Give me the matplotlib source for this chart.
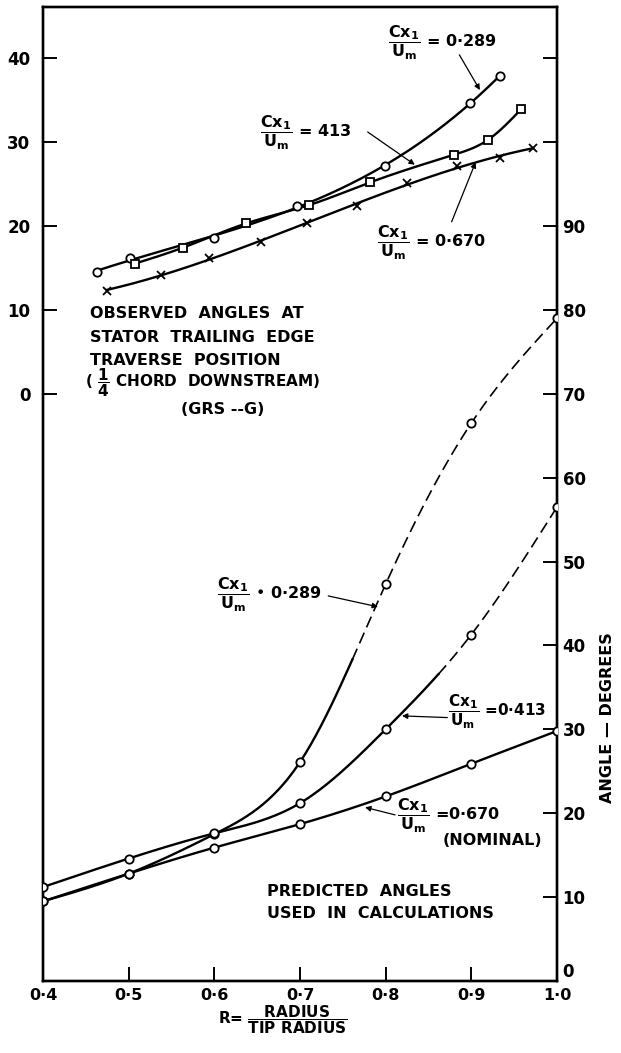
import numpy as np
import matplotlib.pyplot as plt

plt.rcParams['font.family'] = ['DejaVu Sans']
plt.rcParams['font.weight'] = 'bold'
plt.rcParams['mathtext.fontset'] = 'dejavusans'

# observed angles at stator trailing edge (left scale, degrees)
obs_r_289 = [0.463, 0.501, 0.600, 0.697, 0.799, 0.898, 0.934]
obs_a_289 = [14.5, 16.2, 18.6, 22.4, 27.1, 34.7, 37.9]
obs_r_413 = [0.507, 0.563, 0.637, 0.711, 0.782, 0.880, 0.920, 0.958]
obs_a_413 = [15.5, 17.4, 20.3, 22.5, 25.2, 28.5, 30.3, 33.9]
obs_r_670 = [0.475, 0.538, 0.594, 0.655, 0.708, 0.767, 0.825, 0.883, 0.933, 0.972]
obs_a_670 = [12.3, 14.2, 16.2, 18.1, 20.4, 22.4, 25.1, 27.2, 28.1, 29.3]

# predicted angles used in calculations (right scale, degrees)
pred_r = [0.4, 0.5, 0.6, 0.7, 0.8, 0.9, 1.0]
pred_289 = [9.5, 12.8, 17.5, 26.1, 47.3, 66.5, 79.0]
pred_413 = [11.2, 14.6, 17.6, 21.2, 30.0, 41.3, 56.5]
pred_670 = [9.5, 12.8, 15.9, 18.7, 22.0, 25.9, 29.8]

x_ticks = [0.4, 0.5, 0.6, 0.7, 0.8, 0.9, 1.0]
x_labels = ['0·4', '0·5', '0·6', '0·7', '0·8', '0·9', '1·0']
left_ticks = [0, 10, 20, 30, 40]
right_ticks = [0, 10, 20, 30, 40, 50, 60, 70, 80, 90, 100, 110]
right_labels = ['0', '10', '20', '30', '40', '50', '60', '70', '80', '90', '', '']

FRAC = r'$\dfrac{\mathbf{Cx_1}}{\mathbf{U_m}}$'
LW = 1.7
FS = 11.5


def spline(xs, ys, n=300):
    # natural cubic spline through the points
    x = np.asarray(xs, float)
    y = np.asarray(ys, float)
    k = len(x)
    h = np.diff(x)
    A = np.zeros((k, k))
    b = np.zeros(k)
    A[0, 0] = A[-1, -1] = 1
    for i in range(1, k - 1):
        A[i, i - 1] = h[i - 1]
        A[i, i] = 2 * (h[i - 1] + h[i])
        A[i, i + 1] = h[i]
        b[i] = 6 * ((y[i + 1] - y[i]) / h[i] - (y[i] - y[i - 1]) / h[i - 1])
    m = np.linalg.solve(A, b)
    xx = np.linspace(x[0], x[-1], n)
    j = np.clip(np.searchsorted(x, xx) - 1, 0, k - 2)
    t0 = xx - x[j]
    t1 = x[j + 1] - xx
    hj = h[j]
    yy = ((m[j] * t1 ** 3 + m[j + 1] * t0 ** 3) / (6 * hj)
          + (y[j] / hj - m[j] * hj / 6) * t1 + (y[j + 1] / hj - m[j + 1] * hj / 6) * t0)
    return xx, yy


def faired(xs, ys, n=300):
    # smooth faired curve (observed points scatter a little)
    c = np.polyfit(xs, ys, 3)
    xx = np.linspace(xs[0], xs[-1], n)
    return xx, np.polyval(c, xx)


def curve(axis, sx, sy, dash_from=None):
    if dash_from is None:
        axis.plot(sx, sy, color='black', lw=LW, zorder=2)
        return
    i = np.searchsorted(sx, dash_from)
    axis.plot(sx[:i + 1], sy[:i + 1], color='black', lw=LW, zorder=2)
    axis.plot(sx[i:], sy[i:], color='black', lw=1.2, dashes=(7, 3.5), zorder=2)


def arrow(axis, start, tip):
    axis.annotate('', xy=tip, xytext=start,
                  arrowprops=dict(arrowstyle='-|>', color='black', lw=0.9,
                                  mutation_scale=8, shrinkA=0, shrinkB=0))


fig = plt.figure(figsize=(6.21, 10.53), dpi=100)
ax = fig.add_axes([43 / 621, 1 - 981 / 1053, (557 - 43) / 621, (981 - 7) / 1053])
ax2 = ax.twinx()

ax.set_xlim(0.4, 1.0)
ax.set_ylim(-70, 46.1)
ax2.set_ylim(0, 116.1)

# observed (upper group)
mk = dict(color='black', ls='none', mfc='white', mew=1.3, zorder=3)
curve(ax, *faired(obs_r_289, obs_a_289))
curve(ax, *spline(obs_r_413, obs_a_413))
curve(ax, *faired(obs_r_670, obs_a_670))
ax.plot(obs_r_289, obs_a_289, marker='o', ms=6, **mk)
ax.plot(obs_r_413, obs_a_413, marker='s', ms=5.5, **mk)
ax.plot(obs_r_670, obs_a_670, marker='x', ms=5.5, **mk)

# predicted (lower group)
curve(ax2, *spline(pred_r, pred_289), dash_from=0.76)
curve(ax2, *spline(pred_r, pred_413), dash_from=0.86)
curve(ax2, *spline(pred_r, pred_670))
for vals in (pred_289, pred_413, pred_670):
    ax2.plot(pred_r, vals, marker='o', ms=6, **mk)

# axes, ticks
for a in (ax, ax2):
    for s in a.spines.values():
        s.set_linewidth(1.7)
ax.set_xticks(x_ticks)
ax.set_xticklabels(x_labels, fontsize=FS)
ax.set_yticks(left_ticks)
ax.set_yticklabels([str(v) for v in left_ticks], fontsize=FS + 0.5)
ax.tick_params(axis='x', direction='in', length=10, width=1.4, pad=5)
ax.tick_params(axis='y', direction='in', length=10, width=1.4, pad=9)
ax2.set_yticks(right_ticks)
ax2.set_yticklabels(right_labels, fontsize=FS + 0.5)
ax2.tick_params(axis='y', direction='in', length=10, width=1.4, pad=4)
ax2.get_yticklabels()[0].set_va('bottom')

# labels on the observed curves
ax.text(0.803, 41.8, FRAC + ' = 0·289', fontsize=FS, ha='left', va='center')
arrow(ax, (0.886, 40.4), (0.910, 36.2))
ax.text(0.653, 31.1, FRAC + ' = 413', fontsize=FS, ha='left', va='center')
arrow(ax, (0.779, 31.2), (0.834, 27.3))
ax.text(0.790, 18.0, FRAC + ' = 0·670', fontsize=FS, ha='left', va='center')
arrow(ax, (0.877, 20.5), (0.905, 27.6))

obs_lines = ['OBSERVED  ANGLES  AT', 'STATOR  TRAILING  EDGE', 'TRAVERSE  POSITION',
             r'( $\dfrac{\mathbf{1}}{\mathbf{4}}$ CHORD  DOWNSTREAM)']
for k, line in enumerate(obs_lines):
    ax.text(0.455 if k < 3 else 0.449, [9.6, 6.65, 4.0, 1.3][k], line,
            fontsize=FS if k < 3 else FS - 0.5, ha='left', va='center')
ax.text(0.61, -1.9, '(GRS --G)', fontsize=FS, ha='center', va='center')

# labels on the predicted curves
ax2.text(0.603, 46.0, FRAC + ' • 0·289', fontsize=FS, ha='left', va='center')
arrow(ax2, (0.733, 45.9), (0.791, 44.6))
ax2.text(0.873, 32.1, FRAC + ' =0·413', fontsize=FS - 0.5, ha='left', va='center')
arrow(ax2, (0.872, 31.4), (0.819, 31.6))
ax2.text(0.813, 19.7, FRAC + ' =0·670', fontsize=FS, ha='left', va='center')
ax2.text(0.866, 16.8, '(NOMINAL)', fontsize=FS, ha='left', va='center')
arrow(ax2, (0.811, 19.8), (0.776, 20.7))

ax2.text(0.6615, 9.4, 'PREDICTED  ANGLES\nUSED  IN  CALCULATIONS',
         fontsize=FS, ha='left', va='center', linespacing=1.6)

fig.text(607 / 621, 1 - 718 / 1053, 'ANGLE — DEGREES', rotation=90,
         fontsize=FS, ha='center', va='center')
fig.text(218 / 621, 1 - 1020 / 1053, r'R= $\dfrac{\mathbf{RADIUS}}{\mathbf{TIP\ RADIUS}}$',
         fontsize=FS - 0.5, ha='left', va='center')

fig.savefig('out.png', dpi=100)
